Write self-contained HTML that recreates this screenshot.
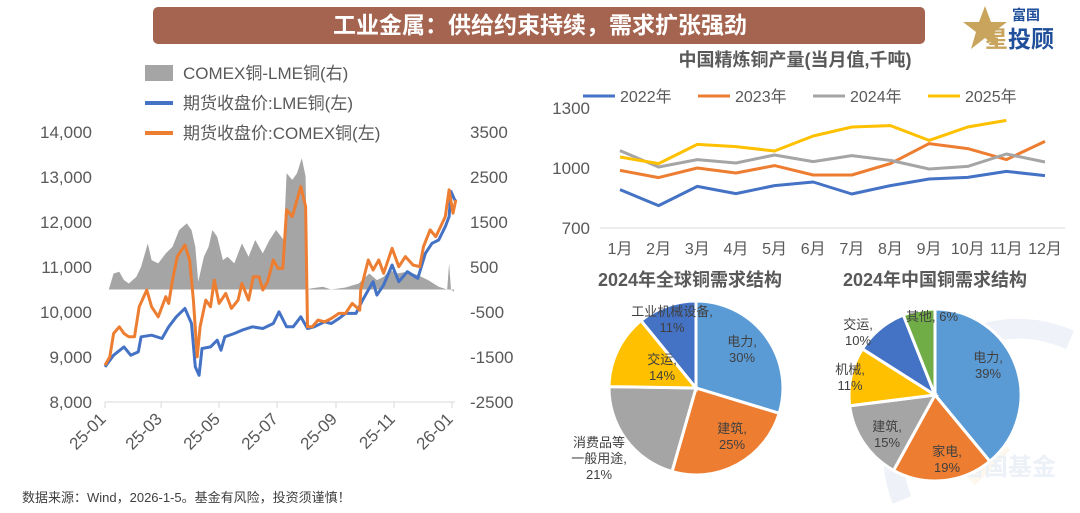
<!DOCTYPE html>
<html><head><meta charset="utf-8"><style>
html,body{margin:0;width:1080px;height:513px;background:#fff;overflow:hidden;font-family:"Liberation Sans","Noto Sans CJK SC",sans-serif;}
svg{display:block;}
svg text{font-family:"Liberation Sans","Noto Sans CJK SC",sans-serif;}
</style></head><body>
<svg id="s" width="1080" height="513" viewBox="0 0 1080 513" xmlns="http://www.w3.org/2000/svg">
<g opacity="0.5">
<path d="M902,500 A125,125 0 0 1 1070,340" fill="none" stroke="#dfe6f2" stroke-width="20"/>
<rect x="950" y="425" width="50" height="50" fill="#fdf3dc" transform="rotate(45 975 450)"/>
<text x="960" y="475" font-size="24" font-weight="bold" fill="#dbe3f0">富国基金</text>
</g>
<rect x="153" y="7" width="772" height="37" rx="5" fill="#a5644f"/>
<text x="540" y="33" text-anchor="middle" font-size="23" font-weight="bold" fill="#fff">工业金属：供给约束持续，需求扩张强劲</text>
<g>
<polygon points="985,6 991,22 1007,22 994,32 999,49 985,38 971,49 976,32 963,22 979,22" fill="#c9a45c"/>
<text x="1012" y="20" font-size="14" font-weight="bold" fill="#1f4e9a">富国</text>
<text x="985" y="47" font-size="23" font-weight="bold" fill="#c9a45c">星</text>
<text x="1008" y="47" font-size="23" font-weight="bold" fill="#1f4e9a">投顾</text>
</g>
<text x="22" y="502" font-size="13" fill="#404040">数据来源：Wind，2026-1-5。基金有风险，投资须谨慎！</text>
<g id="left"></g>
<g id="line"></g>
<g id="pies"></g>
</svg>
<script>
// ===== Left chart data =====
const lmeDays=[0,9,20,27,35,38,49,60,67,75,84,91,95,99,102,111,118,122,126,136,144,155,166,177,183,191,198,206,213,220,231,238,246,253,264,271,277,282,286,293,302,309,318,329,337,344,351,358,362,364,367,369];
const lmeVals=[8780,9040,9225,9040,9114,9448,9485,9411,9671,9894,10079,9745,8780,8594,9188,9225,9374,9151,9448,9522,9596,9671,9634,9745,10005,9671,9671,9894,9634,9671,9782,9745,9856,9968,9968,10265,10488,10673,10376,10599,11044,10673,10896,10748,11304,11527,11601,11898,12121,12678,12530,12455];
const cmxDays=[0,5,9,15,20,25,31,36,44,49,56,64,67,71,76,84,89,93,97,100,106,111,115,120,127,133,140,144,151,156,162,166,171,177,182,187,191,197,202,206,211,213,218,224,231,238,246,253,260,268,269,277,282,288,293,302,309,316,324,331,335,342,348,353,358,362,366,369];
const cmxVals=[8817,9003,9523,9671,9523,9448,9448,10116,10488,10116,9894,10339,10190,10710,11230,11490,11156,10265,9003,9671,10265,10116,10710,10190,10413,10079,10265,10636,10265,10785,10785,10488,10673,11156,10970,10970,12270,12121,12492,12789,12344,9671,9671,9819,9782,9856,9968,9968,10190,10042,10488,11156,10933,11156,10859,11416,11007,11230,11044,11007,11453,11824,11675,11898,12121,12715,12195,12492];
const sprDays=[4,9,15,20,25,33,38,45,49,56,64,71,78,86,91,95,98,104,109,113,118,124,129,136,144,151,158,166,173,180,188,191,197,202,207,211,213,216,229,238,253,267,278,286,293,300,307,318,329,340,351,360,362,364,367];
const sprVals=[0,356,394,208,134,282,505,1025,653,579,802,951,1322,1470,1322,951,171,728,951,1322,1173,653,728,579,1025,728,1099,802,1099,1322,1099,2584,2436,2584,2919,2511,0,22,60,0,45,134,356,208,282,431,356,394,319,208,60,0,579,0,-52];
const leftTicks=[8000,9000,10000,11000,12000,13000,14000];
const rightTicks=[-2500,-1500,-500,500,1500,2500,3500];
const dateLabels=["25-01","25-03","25-05","25-07","25-09","25-11","26-01"];
const dateTickDays=[0,59,120,181,243,304,365];
// ===== Line chart data =====
const months=["1月","2月","3月","4月","5月","6月","7月","8月","9月","10月","11月","12月"];
const years=["2022年","2023年","2024年","2025年"];
const y2022=[892,812,908,872,912,930,870,912,945,953,983,962];
const y2023=[988,952,1000,975,1012,965,965,1022,1122,1097,1042,1133];
const y2024=[1087,1005,1042,1025,1065,1032,1062,1038,995,1008,1070,1030];
const y2025=[1055,1022,1118,1107,1085,1160,1205,1212,1138,1205,1238];
const outTicks=[700,1000,1300];
// ===== Pie data =====
const globalCats=["电力","建筑","消费品等一般用途","交运","工业机械设备"];
const globalVals=[30,25,21,14,11];
const chinaCats=["电力","家电","建筑","机械","交运","其他"];
const chinaVals=[39,19,15,11,10,6];

const NS="http://www.w3.org/2000/svg";
function mk(tag,attrs,parent,txt){const e=document.createElementNS(NS,tag);for(const k in attrs)e.setAttribute(k,attrs[k]);if(txt!==undefined)e.textContent=txt;parent.appendChild(e);return e;}

// ---- left chart ----
const L=document.getElementById('left');
const xD=d=>105+d/365*347;
const yL=v=>402-(v-8000)/6000*270;
const yR=v=>402-(v+2500)/6000*270;
let ap="M"+xD(sprDays[0])+","+yR(0);
sprDays.forEach((d,i)=>{ap+=" L"+xD(d).toFixed(1)+","+yR(sprVals[i]).toFixed(1);});
ap+=" L"+xD(sprDays[sprDays.length-1])+","+yR(0)+" Z";
let e=mk('path',{d:ap,fill:'#a5a5a5'},L);


function line(days,vals,col,name){let p="";days.forEach((d,i)=>{p+=(i?" L":"M")+xD(d).toFixed(1)+","+yL(vals[i]).toFixed(1);});const el=mk('path',{d:p,fill:'none',stroke:col,'stroke-width':3,'stroke-linejoin':'round'},L);

}
line(lmeDays,lmeVals,'#4472c4','lme-line');
line(cmxDays,cmxVals,'#ed7d31','comex-line');
leftTicks.forEach(v=>{const t=mk('text',{x:92,y:yL(v)+6,'text-anchor':'end','font-size':17,fill:'#595959'},L,v.toLocaleString('en-US'));

});
rightTicks.forEach(v=>{const t=mk('text',{x:470,y:yR(v)+6,'font-size':17,fill:'#595959'},L,String(v));

});
mk('line',{x1:105,y1:402,x2:455,y2:402,stroke:'#d9d9d9','stroke-width':1},L);
dateTickDays.forEach((d,i)=>{mk('line',{x1:xD(d),y1:402,x2:xD(d),y2:408,stroke:'#d9d9d9'},L);
const px=xD(d)+2,py=420;
const t=mk('text',{x:px,y:py,'text-anchor':'end','font-size':17,fill:'#595959',transform:`rotate(-45 ${px} ${py})`},L,dateLabels[i]);

});
const lg=[['rect','#a5a5a5','COMEX铜-LME铜(右)',73],['line','#4472c4','期货收盘价:LME铜(左)',103],['line','#ed7d31','期货收盘价:COMEX铜(左)',133]];
lg.forEach(l=>{const g=mk('g',{},L);


if(l[0]=='rect')mk('rect',{x:145,y:l[3]-8,width:28,height:16,fill:l[1]},g);else mk('line',{x1:145,y1:l[3],x2:173,y2:l[3],stroke:l[1],'stroke-width':4},g);
mk('text',{x:183,y:l[3]+6,'font-size':17,fill:'#595959'},g,l[2]);});

// ---- line chart ----
const C=document.getElementById('line');
const xM=i=>620+i*(425/11);
const yO=v=>168-(v-1000)/300*60;
const tt=mk('text',{x:795,y:66,'text-anchor':'middle','font-size':18,'font-weight':'bold',fill:'#595959'},C,'中国精炼铜产量(当月值,千吨)');


outTicks.forEach(v=>{const t=mk('text',{x:590,y:yO(v)+6,'text-anchor':'end','font-size':17,fill:'#595959'},C,String(v));

});
mk('line',{x1:600,y1:yO(700),x2:1065,y2:yO(700),stroke:'#d9d9d9'},C);
months.forEach((m,i)=>{const t=mk('text',{x:xM(i),y:254,'text-anchor':'middle','font-size':16,fill:'#595959'},C,m);

});
const series=[y2022,y2023,y2024,y2025];const cols=['#4472c4','#ed7d31','#a5a5a5','#ffc000'];
series.forEach((s,k)=>{let p="";s.forEach((v,i)=>{p+=(i?" L":"M")+xM(i).toFixed(1)+","+yO(v).toFixed(1);});
const el=mk('path',{d:p,fill:'none',stroke:cols[k],'stroke-width':3,'stroke-linejoin':'round'},C);


const lx=583+k*115;const g=mk('g',{},C);


mk('line',{x1:lx,y1:96,x2:lx+32,y2:96,stroke:cols[k],'stroke-width':3},g);
mk('text',{x:lx+37,y:102,'font-size':16,fill:'#595959'},g,years[k]);});

// ---- pies ----
const P=document.getElementById('pies');
const pc=['#5b9bd5','#ed7d31','#a5a5a5','#ffc000','#4472c4','#70ad47'];
function pie(cx,cy,r,vals,cats,name){let tot=vals.reduce((a,b)=>a+b,0),a0=0;
vals.forEach((v,i)=>{const a1=a0+v/tot*2*Math.PI;
const p1=[cx+r*Math.sin(a0),cy-r*Math.cos(a0)],p2=[cx+r*Math.sin(a1),cy-r*Math.cos(a1)];
const el=mk('path',{d:`M${cx},${cy} L${p1[0].toFixed(1)},${p1[1].toFixed(1)} A${r},${r} 0 ${a1-a0>Math.PI?1:0} 1 ${p2[0].toFixed(1)},${p2[1].toFixed(1)} Z`,fill:pc[i],stroke:'#fff','stroke-width':3},P);


a0=a1;});}
pie(696,388,87,globalVals,globalCats,'global');
pie(935,395,86,chinaVals,chinaCats,'china');
const t1=mk('text',{x:690,y:286,'text-anchor':'middle','font-size':18,'font-weight':'bold',fill:'#595959'},P,'2024年全球铜需求结构');


const t2=mk('text',{x:935,y:286,'text-anchor':'middle','font-size':18,'font-weight':'bold',fill:'#595959'},P,'2024年中国铜需求结构');


const labs=[[742,346,['电力,',globalVals[0]+'%']],[732,433,['建筑,',globalVals[1]+'%']],[599,447,['消费品等','一般用途,',globalVals[2]+'%']],[662,364,['交运,',globalVals[3]+'%']],[672,316,['工业机械设备,',globalVals[4]+'%']],
[988,362,['电力,',chinaVals[0]+'%']],[947,456,['家电,',chinaVals[1]+'%']],[887,431,['建筑,',chinaVals[2]+'%']],[850,374,['机械,',chinaVals[3]+'%']],[858,329,['交运,',chinaVals[4]+'%']],[932,321,['其他, '+chinaVals[5]+'%']]];
labs.forEach(l=>{l[2].forEach((s,j)=>{const t=mk('text',{x:l[0],y:l[1]+j*16,'text-anchor':'middle','font-size':13,fill:'#404040'},P,s);

});});
</script>
</body></html>
